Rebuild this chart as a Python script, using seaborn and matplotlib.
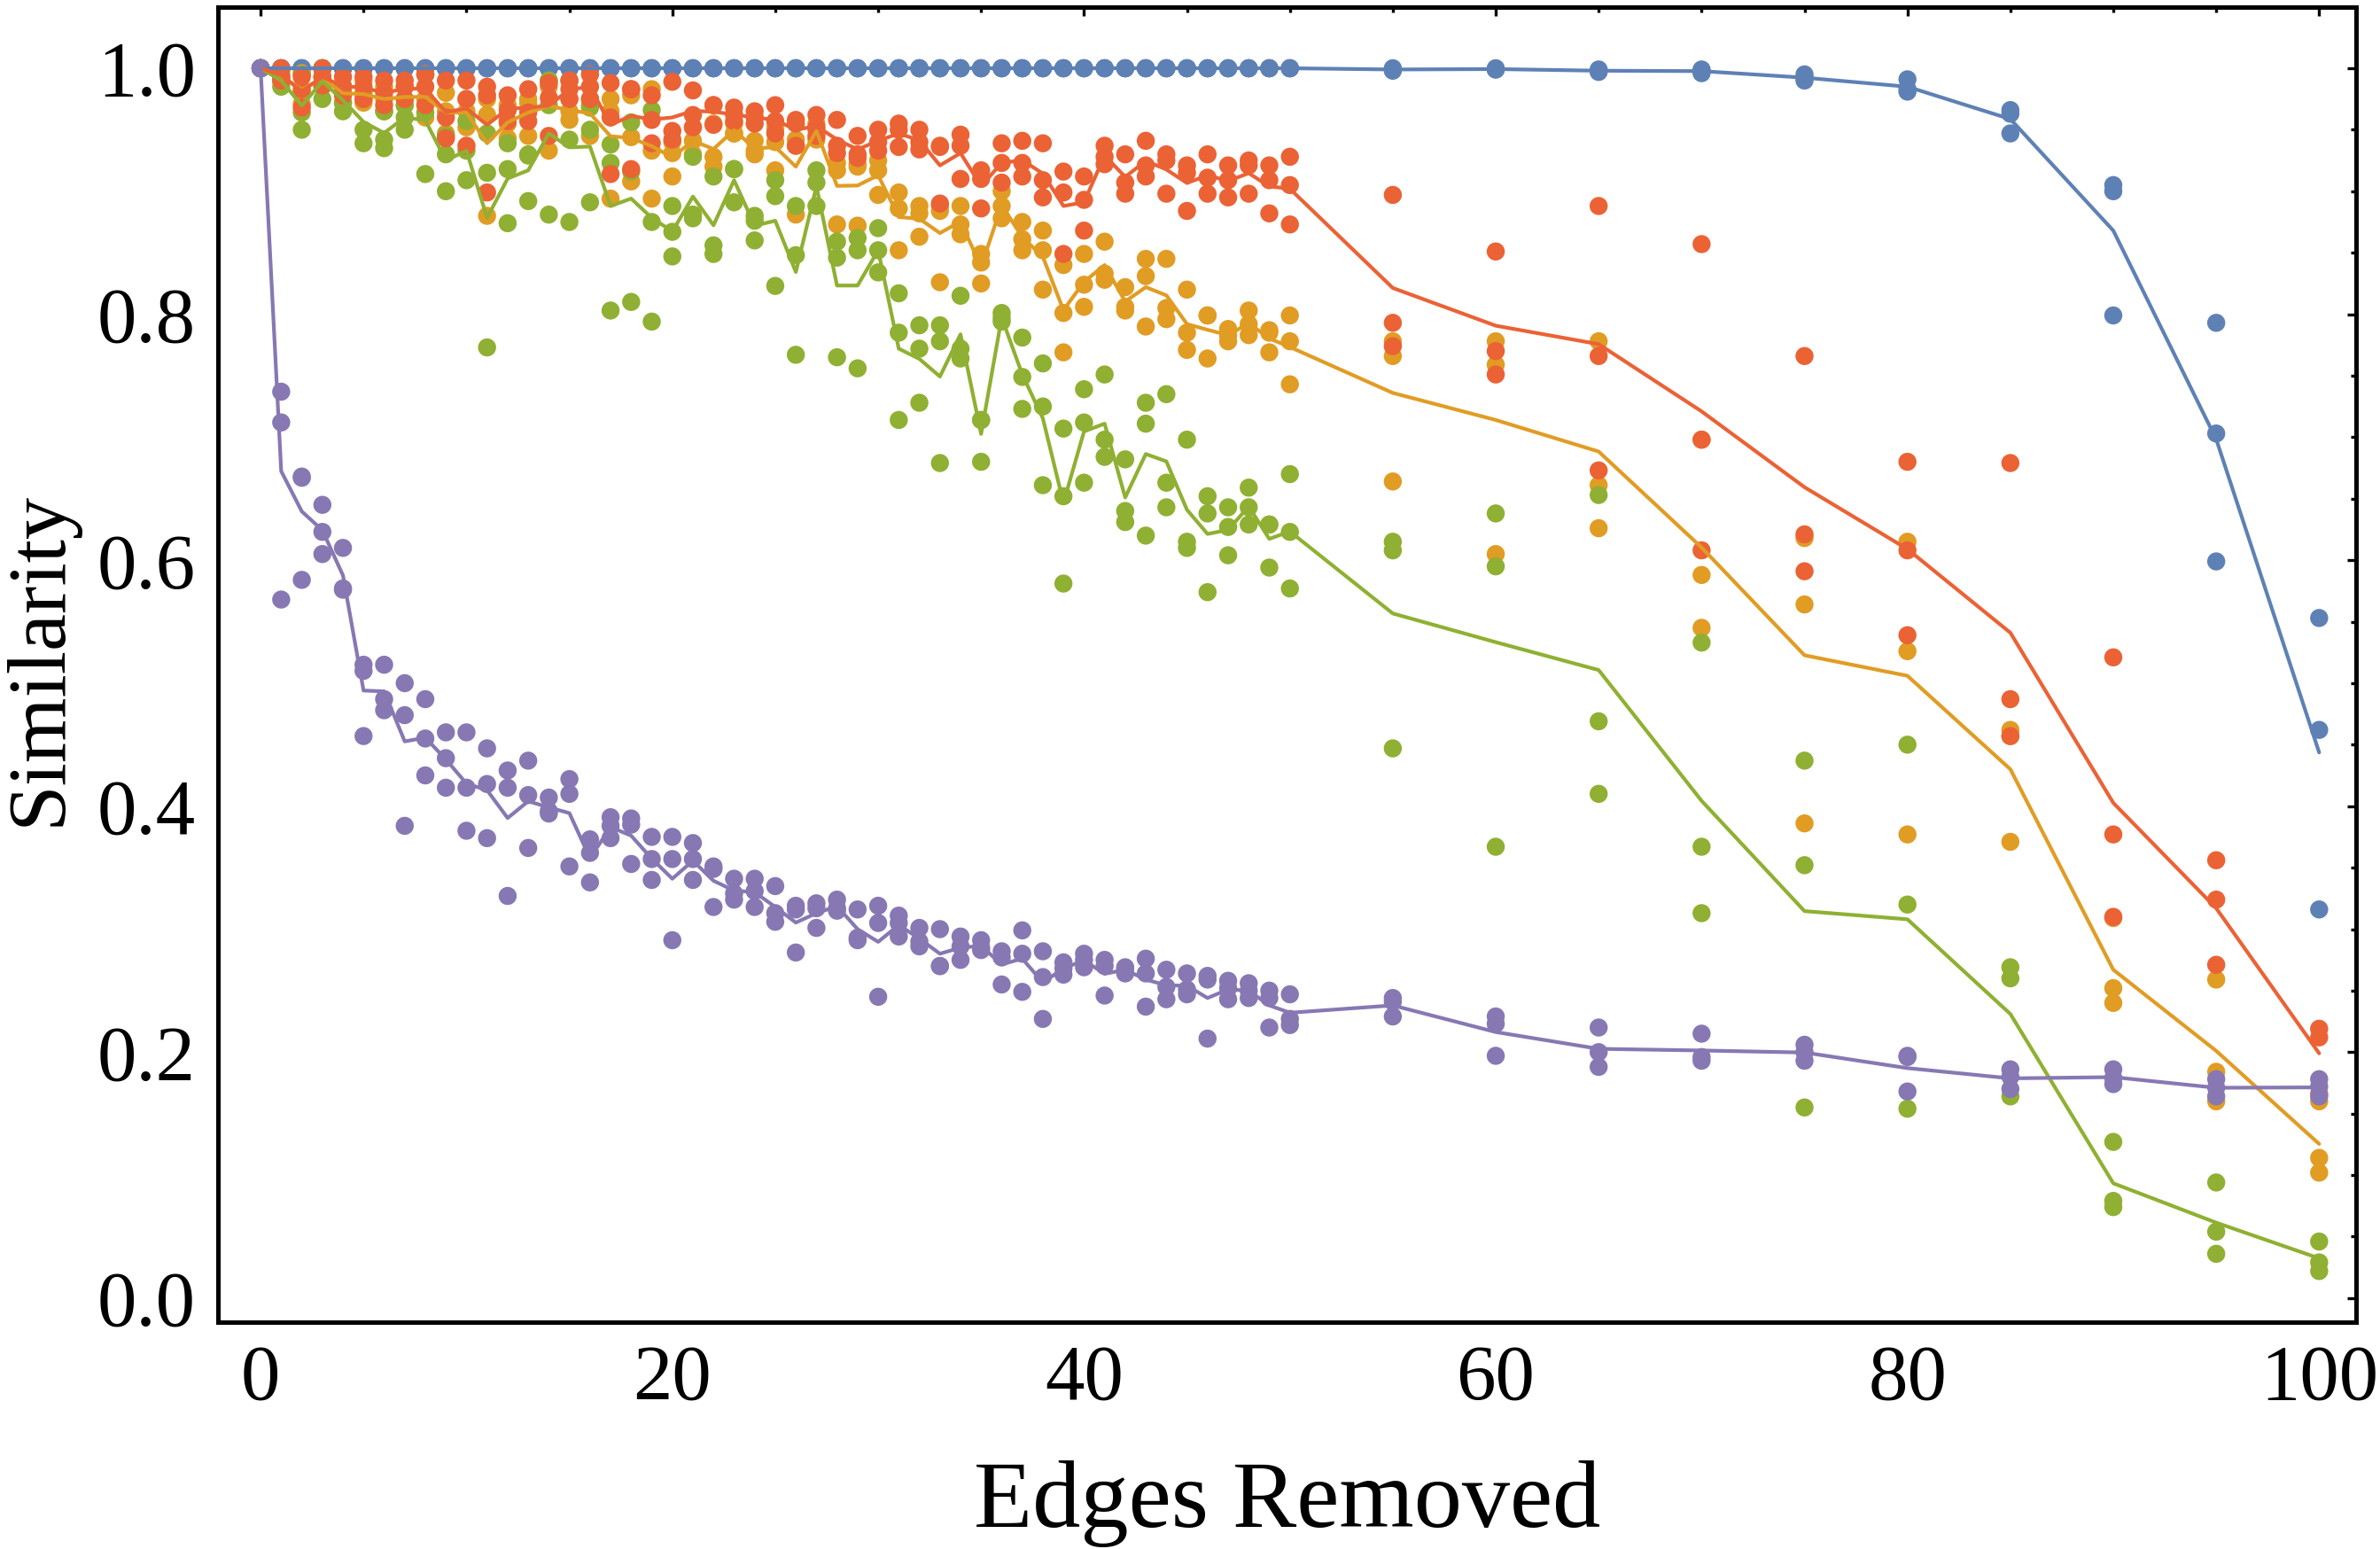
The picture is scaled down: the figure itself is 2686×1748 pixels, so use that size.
import numpy as np
import pandas as pd
import matplotlib
matplotlib.use('Agg')
import matplotlib.pyplot as plt
import seaborn as sns
from matplotlib.ticker import MultipleLocator, FormatStrFormatter

# x values: one edge at a time up to 50, then steps of 5
edges = [0, 1, 2, 3, 4, 5, 6, 7, 8, 9, 10, 11, 12, 13, 14, 15, 16, 17, 18, 19, 20,
         21, 22, 23, 24, 25, 26, 27, 28, 29, 30, 31, 32, 33, 34, 35, 36, 37, 38, 39, 40,
         41, 42, 43, 44, 45, 46, 47, 48, 49, 50, 55, 60, 65, 70, 75, 80, 85, 90, 95, 100]

# three trials per x value
blue_trials = [
    (1.0, 1.0, 1.0), (1.0, 1.0, 1.0), (1.0, 1.0, 1.0), (1.0, 1.0, 1.0), (1.0, 1.0, 1.0),
    (1.0, 1.0, 1.0), (1.0, 1.0, 1.0), (1.0, 1.0, 1.0), (1.0, 1.0, 1.0), (1.0, 1.0, 1.0),
    (1.0, 1.0, 1.0), (1.0, 1.0, 1.0), (1.0, 1.0, 1.0), (1.0, 1.0, 1.0), (1.0, 1.0, 1.0),
    (1.0, 1.0, 1.0), (1.0, 1.0, 1.0), (1.0, 1.0, 1.0), (1.0, 1.0, 1.0), (1.0, 1.0, 1.0),
    (1.0, 1.0, 1.0), (1.0, 1.0, 1.0), (1.0, 1.0, 1.0), (1.0, 1.0, 1.0), (1.0, 1.0, 1.0),
    (1.0, 1.0, 1.0), (1.0, 1.0, 1.0), (1.0, 1.0, 1.0), (1.0, 1.0, 1.0), (1.0, 1.0, 1.0),
    (1.0, 1.0, 1.0), (1.0, 1.0, 1.0), (1.0, 1.0, 1.0), (1.0, 1.0, 1.0), (1.0, 1.0, 1.0),
    (1.0, 1.0, 1.0), (1.0, 1.0, 1.0), (1.0, 1.0, 1.0), (1.0, 1.0, 1.0), (1.0, 1.0, 1.0),
    (1.0, 1.0, 1.0), (1.0, 1.0, 1.0), (1.0, 1.0, 1.0), (1.0, 1.0, 1.0), (1.0, 1.0, 1.0),
    (1.0, 1.0, 1.0), (1.0, 1.0, 1.0), (1.0, 1.0, 1.0), (1.0, 1.0, 1.0), (1.0, 1.0, 1.0),
    (1.0, 1.0, 1.0),
    (1.0, 0.999, 0.998), (1.0, 0.999, 0.999), (0.999, 0.998, 0.997), (0.999, 0.998, 0.996),
    (0.995, 0.992, 0.99), (0.991, 0.983, 0.981), (0.966, 0.963, 0.947), (0.905, 0.9, 0.799),
    (0.793, 0.703, 0.599), (0.553, 0.462, 0.316),
]

orange_trials = [
    (1.0, 1.0, 1.0), (0.998, 0.993, 0.99), (0.996, 0.981, 0.971), (0.999, 0.992, 0.985),
    (0.985, 0.982, 0.972), (0.99, 0.975, 0.972), (0.985, 0.975, 0.965), (0.985, 0.975, 0.97),
    (0.995, 0.975, 0.96), (0.98, 0.965, 0.947), (0.975, 0.965, 0.952), (0.975, 0.962, 0.88),
    (0.97, 0.955, 0.943), (0.975, 0.972, 0.945), (0.99, 0.985, 0.933), (0.975, 0.965, 0.958),
    (0.975, 0.97, 0.945), (0.975, 0.965, 0.894), (0.978, 0.944, 0.908), (0.983, 0.933, 0.894),
    (0.94, 0.931, 0.912), (0.952, 0.941, 0.93), (0.955, 0.928, 0.92), (0.955, 0.947, 0.947),
    (0.941, 0.933, 0.93), (0.951, 0.94, 0.917), (0.942, 0.937, 0.881), (0.955, 0.95, 0.942),
    (0.923, 0.917, 0.873), (0.922, 0.92, 0.872), (0.925, 0.917, 0.897), (0.899, 0.886, 0.852),
    (0.888, 0.882, 0.863), (0.888, 0.884, 0.826), (0.888, 0.873, 0.865), (0.849, 0.842, 0.825),
    (0.9, 0.888, 0.878), (0.875, 0.861, 0.852), (0.868, 0.852, 0.82), (0.84, 0.801, 0.769),
    (0.849, 0.824, 0.806), (0.859, 0.833, 0.828), (0.822, 0.806, 0.803), (0.845, 0.831, 0.79),
    (0.845, 0.805, 0.796), (0.82, 0.785, 0.771), (0.799, 0.799, 0.764), (0.788, 0.783, 0.778),
    (0.803, 0.792, 0.783), (0.787, 0.785, 0.769), (0.799, 0.778, 0.743),
    (0.778, 0.766, 0.664), (0.778, 0.759, 0.605), (0.778, 0.661, 0.626), (0.698, 0.588, 0.545),
    (0.618, 0.564, 0.386), (0.615, 0.526, 0.377), (0.462, 0.457, 0.371), (0.309, 0.252, 0.24),
    (0.259, 0.184, 0.16), (0.16, 0.114, 0.102),
]

green_trials = [
    (1.0, 1.0, 1.0), (0.995, 0.99, 0.985), (0.995, 0.964, 0.95), (1.0, 0.993, 0.975),
    (0.985, 0.972, 0.965), (0.98, 0.95, 0.939), (0.965, 0.942, 0.935), (0.97, 0.96, 0.95),
    (0.995, 0.964, 0.914), (0.945, 0.93, 0.9), (0.957, 0.933, 0.909), (0.947, 0.915, 0.773),
    (0.939, 0.918, 0.874), (0.93, 0.929, 0.892), (0.99, 0.97, 0.881), (0.99, 0.942, 0.875),
    (0.968, 0.95, 0.891), (0.938, 0.923, 0.803), (0.956, 0.916, 0.81), (0.966, 0.875, 0.794),
    (0.888, 0.867, 0.847), (0.928, 0.881, 0.878), (0.912, 0.856, 0.849), (0.918, 0.918, 0.891),
    (0.88, 0.876, 0.86), (0.909, 0.896, 0.823), (0.888, 0.848, 0.767), (0.917, 0.907, 0.888),
    (0.859, 0.846, 0.765), (0.862, 0.852, 0.756), (0.87, 0.852, 0.834), (0.817, 0.785, 0.714),
    (0.791, 0.772, 0.728), (0.791, 0.778, 0.679), (0.815, 0.772, 0.764), (0.714, 0.714, 0.68),
    (0.801, 0.797, 0.794), (0.781, 0.749, 0.723), (0.76, 0.725, 0.661), (0.707, 0.652, 0.581),
    (0.739, 0.712, 0.663), (0.751, 0.698, 0.684), (0.682, 0.64, 0.631), (0.728, 0.711, 0.62),
    (0.735, 0.663, 0.643), (0.698, 0.615, 0.61), (0.652, 0.638, 0.574), (0.643, 0.627, 0.604),
    (0.659, 0.643, 0.629), (0.629, 0.629, 0.594), (0.67, 0.623, 0.577),
    (0.615, 0.608, 0.447), (0.638, 0.595, 0.367), (0.653, 0.469, 0.41), (0.533, 0.367, 0.313),
    (0.437, 0.352, 0.155), (0.45, 0.32, 0.154), (0.269, 0.26, 0.164), (0.127, 0.079, 0.074),
    (0.094, 0.054, 0.036), (0.046, 0.029, 0.022),
]

red_trials = [
    (1.0, 1.0, 1.0), (1.0, 0.993, 0.99), (0.993, 0.983, 0.968), (1.0, 0.993, 0.986),
    (0.993, 0.985, 0.978), (0.993, 0.985, 0.975), (0.99, 0.98, 0.97), (0.99, 0.985, 0.975),
    (0.995, 0.985, 0.97), (0.99, 0.96, 0.943), (0.99, 0.975, 0.937), (0.985, 0.978, 0.899),
    (0.978, 0.966, 0.957), (0.983, 0.964, 0.957), (0.988, 0.976, 0.945), (0.99, 0.983, 0.975),
    (0.995, 0.985, 0.975), (0.988, 0.96, 0.914), (0.983, 0.983, 0.918), (0.978, 0.958, 0.939),
    (0.989, 0.949, 0.942), (0.982, 0.962, 0.952), (0.97, 0.97, 0.954), (0.968, 0.962, 0.957),
    (0.965, 0.96, 0.955), (0.97, 0.957, 0.947), (0.955, 0.958, 0.937), (0.962, 0.952, 0.945),
    (0.958, 0.937, 0.931), (0.945, 0.93, 0.927), (0.95, 0.94, 0.933), (0.955, 0.95, 0.936),
    (0.95, 0.94, 0.934), (0.936, 0.937, 0.89), (0.946, 0.937, 0.91), (0.917, 0.91, 0.886),
    (0.939, 0.923, 0.907), (0.941, 0.923, 0.912), (0.939, 0.909, 0.895), (0.916, 0.899, 0.849),
    (0.912, 0.893, 0.868), (0.937, 0.928, 0.922), (0.93, 0.907, 0.898), (0.941, 0.921, 0.912),
    (0.93, 0.925, 0.898), (0.921, 0.915, 0.884), (0.93, 0.911, 0.898), (0.921, 0.909, 0.895),
    (0.925, 0.921, 0.898), (0.921, 0.909, 0.882), (0.928, 0.905, 0.873),
    (0.897, 0.793, 0.774), (0.851, 0.77, 0.751), (0.888, 0.766, 0.673), (0.857, 0.698, 0.608),
    (0.766, 0.621, 0.591), (0.68, 0.608, 0.539), (0.679, 0.487, 0.457), (0.521, 0.377, 0.31),
    (0.356, 0.324, 0.271), (0.219, 0.212, 0.166),
]

purple_trials = [
    (1.0, 1.0, 1.0), (0.737, 0.712, 0.568), (0.668, 0.667, 0.584), (0.645, 0.623, 0.605),
    (0.61, 0.577, 0.576), (0.515, 0.51, 0.457), (0.515, 0.487, 0.478), (0.5, 0.474, 0.384),
    (0.487, 0.455, 0.425), (0.46, 0.439, 0.415), (0.46, 0.415, 0.38), (0.447, 0.418, 0.374),
    (0.429, 0.415, 0.327), (0.437, 0.409, 0.366), (0.407, 0.396, 0.394), (0.422, 0.41, 0.351),
    (0.373, 0.362, 0.338), (0.391, 0.384, 0.374), (0.39, 0.385, 0.353), (0.375, 0.357, 0.34),
    (0.375, 0.357, 0.291), (0.37, 0.357, 0.34), (0.351, 0.349, 0.318), (0.341, 0.329, 0.324),
    (0.341, 0.331, 0.318), (0.335, 0.313, 0.306), (0.319, 0.316, 0.281), (0.321, 0.317, 0.301),
    (0.324, 0.317, 0.315), (0.316, 0.293, 0.291), (0.319, 0.305, 0.245), (0.311, 0.305, 0.294),
    (0.301, 0.29, 0.286), (0.3, 0.27, 0.27), (0.294, 0.286, 0.275), (0.291, 0.285, 0.283),
    (0.282, 0.277, 0.255), (0.299, 0.28, 0.249), (0.282, 0.261, 0.227), (0.273, 0.268, 0.263),
    (0.28, 0.275, 0.269), (0.275, 0.27, 0.246), (0.269, 0.268, 0.264), (0.276, 0.264, 0.237),
    (0.267, 0.253, 0.243), (0.264, 0.251, 0.247), (0.262, 0.259, 0.211), (0.258, 0.252, 0.243),
    (0.256, 0.25, 0.244), (0.25, 0.244, 0.22), (0.247, 0.227, 0.222),
    (0.244, 0.241, 0.229), (0.229, 0.223, 0.197), (0.22, 0.2, 0.188), (0.215, 0.196, 0.193),
    (0.206, 0.2, 0.193), (0.197, 0.196, 0.168), (0.186, 0.18, 0.17), (0.186, 0.179, 0.174),
    (0.178, 0.171, 0.164), (0.178, 0.172, 0.164),
]

# drawing order (later series sit on top)
series_order = ['blue', 'orange', 'green', 'red', 'purple']
series_colors = {'blue': '#5E81B5', 'orange': '#E19C24', 'green': '#8FB032',
                 'red': '#EB6235', 'purple': '#8778B3'}
all_trials = {'blue': blue_trials, 'orange': orange_trials, 'green': green_trials,
              'red': red_trials, 'purple': purple_trials}

# long-form table
rows = []
for name in series_order:
    for e, vals in zip(edges, all_trials[name]):
        for t, v in enumerate(vals):
            rows.append((e, name, t, v))
df = pd.DataFrame(rows, columns=['edges', 'series', 'trial', 'similarity'])

sns.set_theme(style='white')
plt.rcParams['font.family'] = ['Liberation Serif', 'DejaVu Serif']

fig = plt.figure(figsize=(13.43, 8.74), dpi=200)
ax = fig.add_axes([0.0916, 0.1465, 0.8984, 0.8489])

# trial points, then the mean line per series
sns.scatterplot(data=df, x='edges', y='similarity', hue='series', hue_order=series_order,
                palette=series_colors, s=54, linewidth=0, legend=False, ax=ax, zorder=2)
sns.lineplot(data=df, x='edges', y='similarity', hue='series', hue_order=series_order,
             palette=series_colors, estimator='mean', errorbar=None, lw=1.5,
             legend=False, ax=ax, zorder=3)

ax.set_xlim(-2.07, 101.8)
ax.set_ylim(-0.0195, 1.0497)

ax.xaxis.set_major_locator(MultipleLocator(20))
ax.xaxis.set_minor_locator(MultipleLocator(5))
ax.yaxis.set_major_locator(MultipleLocator(0.2))
ax.yaxis.set_minor_locator(MultipleLocator(0.05))
ax.yaxis.set_major_formatter(FormatStrFormatter('%.1f'))

ax.tick_params(which='both', direction='in', top=True, right=True, color='black',
               width=1.2, labelsize=32, labelcolor='black')
ax.tick_params(which='major', length=3.6, pad=9)
ax.tick_params(which='minor', length=2.0)
for sp in ax.spines.values():
    sp.set_color('black')
    sp.set_linewidth(1.8)

ax.set_xlabel('Edges Removed', fontsize=39, color='black')
ax.set_ylabel('Similarity', fontsize=34, color='black')
ax.xaxis.set_label_coords(0.5, -0.105)
ax.yaxis.set_label_coords(-0.0655, 0.505)

fig.savefig('out.png', dpi=200, facecolor='white')
